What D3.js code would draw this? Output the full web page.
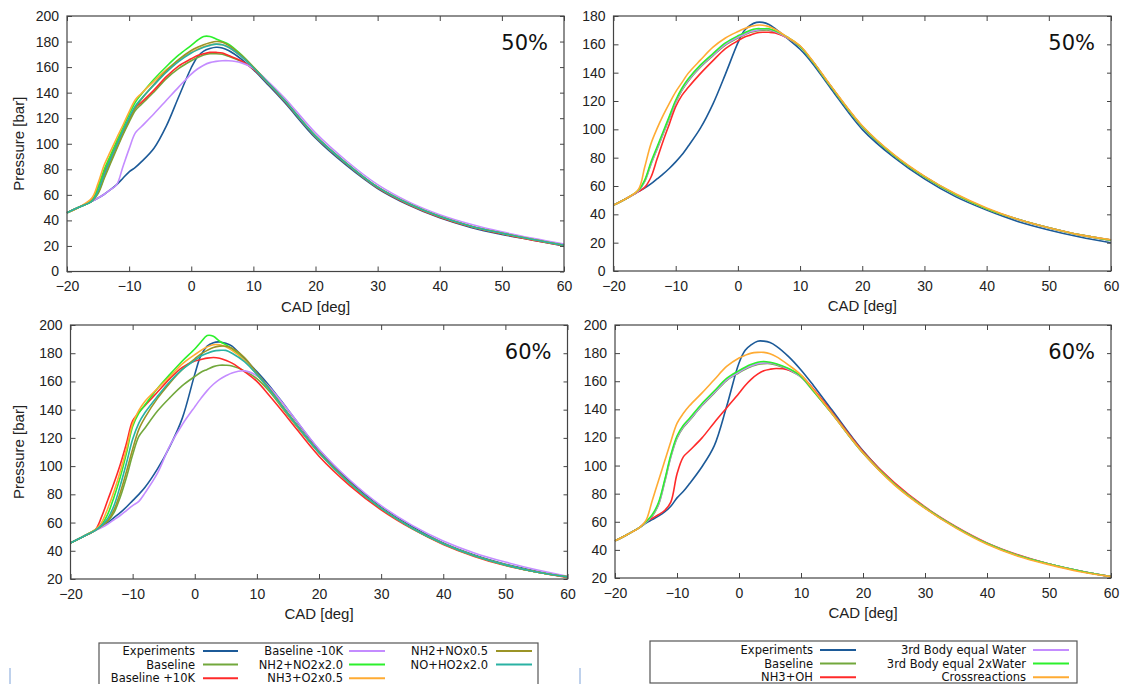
<!DOCTYPE html>
<html><head><meta charset="utf-8">
<script src="https://cdn.jsdelivr.net/npm/d3@7"></script>
<style>
body{margin:0;background:#fff;}
svg{display:block;}
</style>
</head><body>
<svg id="c" width="1124" height="684"></svg>
<script>
// ---- shared crank-angle grid (deg) ----
const cad = [-20,-18,-16,-15,-14,-13,-12,-11,-10,-9,-8,-6,-4,-2,0,1,2,3,4,5,6,8,10,12,15,20,25,30,35,40,45,50,55,60];

// ---- tick values ----
const xTicks = [-20,-10,0,10,20,30,40,50,60];
const yTicksTop = [0,20,40,60,80,100,120,140,160,180,200];
const yTicksTopRight = [0,20,40,60,80,100,120,140,160,180];
const yTicksBottom = [20,40,60,80,100,120,140,160,180,200];

// ---- series names ----
const namesLeft = ["Experiments","Baseline","Baseline +10K","Baseline -10K","NH2+NO2x2.0","NH3+O2x0.5","NH2+NOx0.5","NO+HO2x2.0"];
const namesRight = ["Experiments","Baseline","NH3+OH","3rd Body equal Water","3rd Body equal 2xWater","Crossreactions"];
const colorsLeft = ["#1c5a98","#72a83c","#ff2a2a","#c48cff","#2cf02c","#ffab33","#9b9426","#2ab2a3"];
const colorsRight = ["#1c5a98","#72a83c","#ff2a2a","#c48cff","#2cf02c","#ffab33"];

// ---- panel 1 : 50 %, left ----
const p1Experiments = [46,50.5,55,57.5,60.5,64,68,73,78,81.5,86,96.5,114,137,159.5,168,172.5,174.5,175.5,175,173,166.5,158,148,132.5,104.5,83,65,52,42,34.5,29,24.5,20];
const p1Baseline    = [46,50.5,55,61,73,84.5,96,107,117,126,131,140.5,151,159,165,167.5,169.5,170.5,170.5,170,168.5,164.5,159,149.5,134,106,84.5,66,53,43,35.5,30,25,20.5];
const p1BasePlus10  = [46,50.5,56,66,78,89,100,110,119.5,128,132.5,142,152.5,161,166.5,169,170.5,171.5,171.5,171,169,165,158.5,149,133.5,105.5,84,65.5,52.5,42.5,35,29.5,24.5,20.3];
const p1BaseMinus10 = [46,50.5,55,57.5,60.5,64,68,82,96,108.5,113.5,123.5,134,144.5,154.5,158.5,161.5,163.5,164.5,165,165,163.5,159,150.5,136,108.5,86.5,68,54.5,44.5,37,31,26,21.5];
const p1NH2NO2x2    = [46,50.5,55.5,66,80,91,102,112.5,123,132.5,139,150.5,160.5,169.5,177,181,184,184,182,180,178,170,160,149.5,134,106,84.5,66,53,43,35.5,30,25,20.5];
const p1NH3O2x05    = [46,50.5,57.5,69,83.5,94,104.5,114.5,125,134.5,139.5,149,158,165.5,171.5,174,176,177.5,178,177.5,175.5,168.5,159.5,149.5,134,106,84.5,66,53,43,35.5,30,25,20.5];
const p1NH2NOx05    = [46,50.5,55,62,74,86,97,108,118.5,128,135,146.5,157,166,173,175.5,177.5,179,180,179.5,177,169.5,160,149.5,134,106,84.5,66,53,43,35.5,30,25,20.5];
const p1NOHO2x2     = [46,50.5,55,63,76,88,99,110,120.5,129.5,135.5,146,156,164.5,171,173.5,175.5,177,178,177.5,175.5,168.5,159.5,149.5,134,106,84.5,66,53,43,35.5,30,25,20.5];

// ---- panel 2 : 50 %, right ----
const p2Experiments = [46.5,51,56,58.5,61.5,65,68.5,72.5,77,82,88,101,118,139,161,169.5,173.5,175.5,175.5,174,171,164,156.5,146.5,128.5,100,80.5,65,52.5,43,35,29,24,20];
const p2Baseline    = [46.5,51,56.5,63,75,86,97,108,119,127.5,134,144,152,159.5,164.5,166.5,168.5,169.5,170,170,168.5,164.5,158.5,148,130,102,82,66.5,54,44,36.5,30.5,25.5,21.8];
const p2NH3OH       = [46.5,51,56,59,66,79,92,104,116,124,129.5,139.5,148.5,157,162.5,165,166.5,168,168.5,168.5,168,164.5,158.5,148,130,102,82,66.5,54,44,36.5,30.5,25.5,21.8];
const p2Water       = [46.5,51,56.5,63.5,75.5,86.5,97.5,108.5,119.5,128,134.5,144.5,152.5,160,165,167,169,170,170.5,170.5,169,164.5,158.5,148,130,102,82,66.5,54,44,36.5,30.5,25.5,21.8];
const p2Water2x     = [46.5,51,57,64,76.5,87.5,98.5,109.5,120.5,129,135.5,145.5,153.5,161,166,168,170,171,171,171,169.5,165,158.5,148,130,102,82,66.5,54,44,36.5,30.5,25.5,21.8];
const p2Cross       = [46.5,51,57.5,73,89.5,100.5,110,118.5,126.5,133,139.5,149,158,164.5,169,171,172.5,173.5,173.5,172.5,170.5,165,159,148.5,130.5,102.5,82.5,67,54.5,44.5,36.5,30.5,25.5,22];

// ---- panel 3 : 60 %, left ----
const p3Experiments = [45.5,50,54.5,57,60,63.5,67,71,75.5,80,85,98,114,134,165,178.5,185,187.5,188,187,185,176,167,157,140,111.5,89,71,57,45.5,37,30.5,25.5,21.5];
const p3Baseline    = [45.5,50,54.5,57.5,61,67,78,92,108,121,127,139,148.5,157,163.5,166.5,168.5,170.5,171.5,171.5,171,167.5,162,153,136,109.5,87.5,70,56,45,36.5,30,25,21.5];
const p3BasePlus10  = [45.5,50,55,64,76,88,101,116,132,138,143,152.5,162,170,174.5,175.5,176.5,177,176.5,175,173,167,160,150,134,107,86,69,55.5,44.5,36,29.5,25,21];
const p3BaseMinus10 = [45.5,50,54.5,56.5,59,62,65,68.5,72,75,81,95,114.5,129.5,142,148,153.5,158,161.5,164,166,167.5,164,156,140,112,90,72,58,47,38.5,32,26.5,22];
const p3NH2NO2x2    = [45.5,50,55,58.5,66,78,92,109,128,137.5,143.5,155,165,174.5,183,188,192.5,192,188.5,186,183,175,165,154.5,137,109.5,87.5,70,56,45,36.5,30,25,21.5];
const p3NH3O2x05    = [45.5,50,55,60,70,82,96,112,130,139.5,146,155,163.5,172.5,179,182,184.5,186,186,184.5,182,175,165,154.5,137,109.5,87.5,70,56,45,36.5,30,25,21.5];
const p3NH2NOx05    = [45.5,50,54.5,57.5,61.5,69,81,96,112,126,134.5,148,159,168.5,176,179.5,182,184,185,185,183.5,177,166,155,137.5,110,88,70,56,45,36.5,30,25,21.5];
const p3NOHO2x2     = [45.5,50,54.5,58,63,72,86,102,119,130.5,138,149.5,160,168.5,175,178,180,181.5,182,182,180,174,165,154.5,137,109.5,87.5,70,56,45,36.5,30,25,21.5];

// ---- panel 4 : 60 %, right ----
const p4Experiments = [46.5,51,56,59,61.5,64,67,71,77,81.5,87,99,114,142,173,182,186,188.5,188.5,187.5,185,177.5,168,157,139.5,110.5,87.5,70,56,44.5,36,30,25,21];
const p4Baseline    = [46.5,51,56,59.5,64,72,88,106,119.5,127,132,142.5,151.5,160.5,166,168.5,170.5,172,172.5,172.5,171.5,168,163,153,137,109,87,70,56,44.5,36,30,25,21];
const p4NH3OH       = [46.5,51,56,60,62.5,65,68,74,94,106,110.5,119.5,130.5,141,151.5,157,161.5,165,167.5,168.5,169,168,164,154.5,138,110,88,70.5,56.5,45,36.5,30,25,21];
const p4Water       = [46.5,51,56,59.5,64.5,72.5,88.5,106.5,120,127.5,132.5,143,152,161,166.5,169,171,172.5,173,173,172,168.5,163,153,137,109,87,70,56,44.5,36,30,25,21];
const p4Water2x     = [46.5,51,56,60,65,73.5,89.5,107.5,121,128.5,133.5,144,153,162,167.5,170,172,173.5,174,173.5,172.5,169,163.5,153,137,109,87,70,56,44.5,36,30,25,21];
const p4Cross       = [46.5,51,56,61,75,89,103,117,130,137,142.5,151.5,161,170.5,176.5,178.5,180,180.5,180.5,179.5,177.5,171.5,164.5,154,137,109,86.5,69.5,55.5,44,35.5,29.5,24.5,21];

// ---- panel layout ----
const panels = [
  {x0:67,  x1:564,  y0:16,  y1:271.5, ymin:0,  ymax:200, yt:yTicksTop,      tag:"50%", ylab:true,
   series:[p1Experiments,p1Baseline,p1BasePlus10,p1BaseMinus10,p1NH2NO2x2,p1NH3O2x05,p1NH2NOx05,p1NOHO2x2], colors:colorsLeft},
  {x0:613.5,x1:1111,y0:16,  y1:271,   ymin:0,  ymax:180, yt:yTicksTopRight, tag:"50%", ylab:false,
   series:[p2Experiments,p2Baseline,p2NH3OH,p2Water,p2Water2x,p2Cross], colors:colorsRight},
  {x0:70.5,x1:567.5,y0:325, y1:579,   ymin:20, ymax:200, yt:yTicksBottom,   tag:"60%", ylab:true,
   series:[p3Experiments,p3Baseline,p3BasePlus10,p3BaseMinus10,p3NH2NO2x2,p3NH3O2x05,p3NH2NOx05,p3NOHO2x2], colors:colorsLeft},
  {x0:615, x1:1111, y0:325, y1:578,   ymin:20, ymax:200, yt:yTicksBottom,   tag:"60%", ylab:false,
   series:[p4Experiments,p4Baseline,p4NH3OH,p4Water,p4Water2x,p4Cross], colors:colorsRight}
];

const svg = d3.select("#c");
const axisFont = "'Liberation Sans', Arial, sans-serif";
const textCol = "#222";
const frameCol = "#444";

panels.forEach(p => {
  const x = d3.scaleLinear().domain([-20,60]).range([p.x0,p.x1]);
  const y = d3.scaleLinear().domain([p.ymin,p.ymax]).range([p.y1,p.y0]);
  const g = svg.append("g");

  // curves
  const line = d3.line().x((d,i)=>x(cad[i])).y(d=>y(d)).curve(d3.curveCatmullRom.alpha(0.5));
  p.series.forEach((s,k) => {
    g.append("path").attr("d", line(s)).attr("fill","none")
      .attr("stroke", p.colors[k]).attr("stroke-width",1.6).attr("stroke-linejoin","round");
  });

  // axes (ticks inward, mirrored)
  const ax = [
    {a:d3.axisBottom(x).tickValues(xTicks).tickSize(-5).tickSizeOuter(0).tickPadding(10), t:`translate(0,${p.y1})`},
    {a:d3.axisTop(x).tickValues(xTicks).tickSize(-5).tickSizeOuter(0).tickFormat(""), t:`translate(0,${p.y0})`},
    {a:d3.axisLeft(y).tickValues(p.yt).tickSize(-5).tickSizeOuter(0).tickPadding(8), t:`translate(${p.x0},0)`},
    {a:d3.axisRight(y).tickValues(p.yt).tickSize(-4).tickSizeOuter(0).tickFormat(""), t:`translate(${p.x1},0)`}
  ];
  ax.forEach(o => {
    const ag = g.append("g").attr("transform",o.t).call(o.a);
    ag.select(".domain").remove();
    ag.selectAll(".tick line").attr("stroke",frameCol).attr("stroke-width",1);
    ag.selectAll(".tick text").attr("fill",textCol).style("font-family",axisFont).style("font-size","14px");
  });

  // frame
  g.append("rect").attr("x",p.x0).attr("y",p.y0).attr("width",p.x1-p.x0).attr("height",p.y1-p.y0)
    .attr("fill","none").attr("stroke",frameCol).attr("stroke-width",1.2);

  // axis titles
  g.append("text").attr("x",(p.x0+p.x1)/2).attr("y",p.y1+40).attr("text-anchor","middle")
    .attr("fill",textCol).style("font-family",axisFont).style("font-size","15px").text("CAD [deg]");
  if (p.ylab) {
    g.append("text").attr("transform",`translate(24,${(p.y0+p.y1)/2}) rotate(-90)`).attr("text-anchor","middle")
      .attr("fill",textCol).style("font-family",axisFont).style("font-size","15px").text("Pressure [bar]");
  }
  // percentage tag
  g.append("text").attr("x",p.x1-16).attr("y",p.y0+34).attr("text-anchor","end")
    .attr("fill","#111").style("font-family","'DejaVu Sans', sans-serif").style("font-size","21px").text(p.tag);
});

// ---- legends ----
const legFont = "'DejaVu Sans', sans-serif";
function legend(names, colors, box, cols) {
  const g = svg.append("g");
  g.append("rect").attr("x",box.x).attr("y",box.y).attr("width",box.w).attr("height",box.h)
    .attr("fill","#fff").attr("stroke","#555").attr("stroke-width",1.2);
  names.forEach((n,i) => {
    const c = Math.floor(i/3), r = i%3;
    const col = cols[c];
    const yy = box.ry + r*13.6;
    g.append("text").attr("x",col.tx).attr("y",yy).attr("dy","0.35em").attr("text-anchor","end")
      .attr("fill","#111").style("font-family",legFont).style("font-size","11.5px").text(n);
    g.append("line").attr("x1",col.l0).attr("x2",col.l1).attr("y1",yy).attr("y2",yy)
      .attr("stroke",colors[i]).attr("stroke-width",2);
  });
}
legend(namesLeft, colorsLeft, {x:99, y:643, w:439, h:60, ry:651},
  [{tx:195,l0:203,l1:238},{tx:343,l0:349,l1:385},{tx:488,l0:496,l1:532}]);
legend(namesRight, colorsRight, {x:650, y:641, w:427, h:42, ry:650},
  [{tx:813,l0:820,l1:856},{tx:1026,l0:1033,l1:1069}]);

// small marks at page bottom
svg.append("line").attr("x1",10).attr("x2",10).attr("y1",668).attr("y2",684).attr("stroke","#7fa3d9").attr("stroke-width",1);
svg.append("line").attr("x1",580).attr("x2",580).attr("y1",668).attr("y2",684).attr("stroke","#7fa3d9").attr("stroke-width",1);
</script>
</body></html>
